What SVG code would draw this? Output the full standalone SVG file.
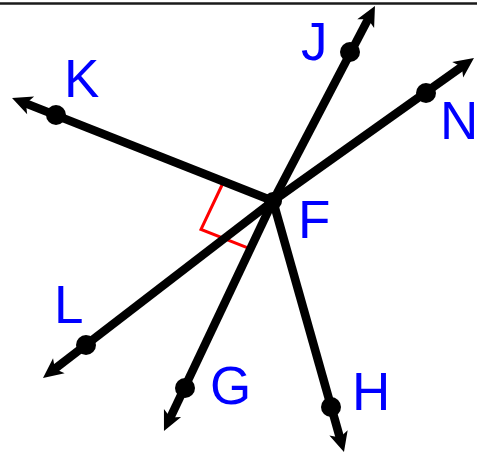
<svg xmlns="http://www.w3.org/2000/svg" width="477" height="455" viewBox="0 0 477 455">
<style>
.ray{stroke:#000;stroke-width:8.5;fill:none;marker-end:url(#ah)}
.pt{fill:#000}
.lbl{font-family:"Liberation Sans",Arial,sans-serif;font-size:53px;fill:#0000ff}
.ra{fill:none;stroke:#ff0000;stroke-width:3}
</style>
<defs>
<marker id="ah" markerUnits="userSpaceOnUse" markerWidth="24" markerHeight="24" viewBox="0 -12 24 24" refX="8" refY="0" orient="auto" overflow="visible">
<path d="M20,0 L0,-9.5 L5,0 L0,9.5 Z" fill="#000"/>
</marker>
</defs>
<rect width="477" height="455" fill="#fff"/>
<line x1="0" y1="3.5" x2="477" y2="3.5" stroke="#1a1a1a" stroke-width="2.5"/>
<path class="ra" d="M223.7,181.5 L201,229.4 L250.3,248.9"/>
<g id="connectors">
<line class="ray" x1="273" y1="201" x2="23.2" y2="102.4"/>
<line class="ray" x1="273" y1="201" x2="369.4" y2="16.6"/>
<line class="ray" x1="273" y1="201" x2="464.2" y2="65"/>
<line class="ray" x1="273" y1="201" x2="52.5" y2="370.7"/>
<line class="ray" x1="273" y1="201" x2="169.1" y2="420.2"/>
<line class="ray" x1="273" y1="201" x2="340.7" y2="440.5"/>
</g>
<g id="F"><circle class="pt" cx="273" cy="201" r="9"/><text class="lbl" x="298" y="238">F</text></g>
<g id="K"><circle class="pt" cx="56" cy="115" r="10"/><text class="lbl" x="64" y="97">K</text></g>
<g id="J"><circle class="pt" cx="350" cy="52" r="10"/><text class="lbl" x="301" y="60">J</text></g>
<g id="N"><circle class="pt" cx="426" cy="93" r="10"/><text class="lbl" x="440" y="139">N</text></g>
<g id="L"><circle class="pt" cx="86" cy="345" r="10"/><text class="lbl" x="54" y="323">L</text></g>
<g id="G"><circle class="pt" cx="185" cy="388" r="10"/><text class="lbl" x="210" y="404">G</text></g>
<g id="H"><circle class="pt" cx="331" cy="407" r="10"/><text class="lbl" x="352" y="410">H</text></g>
</svg>
